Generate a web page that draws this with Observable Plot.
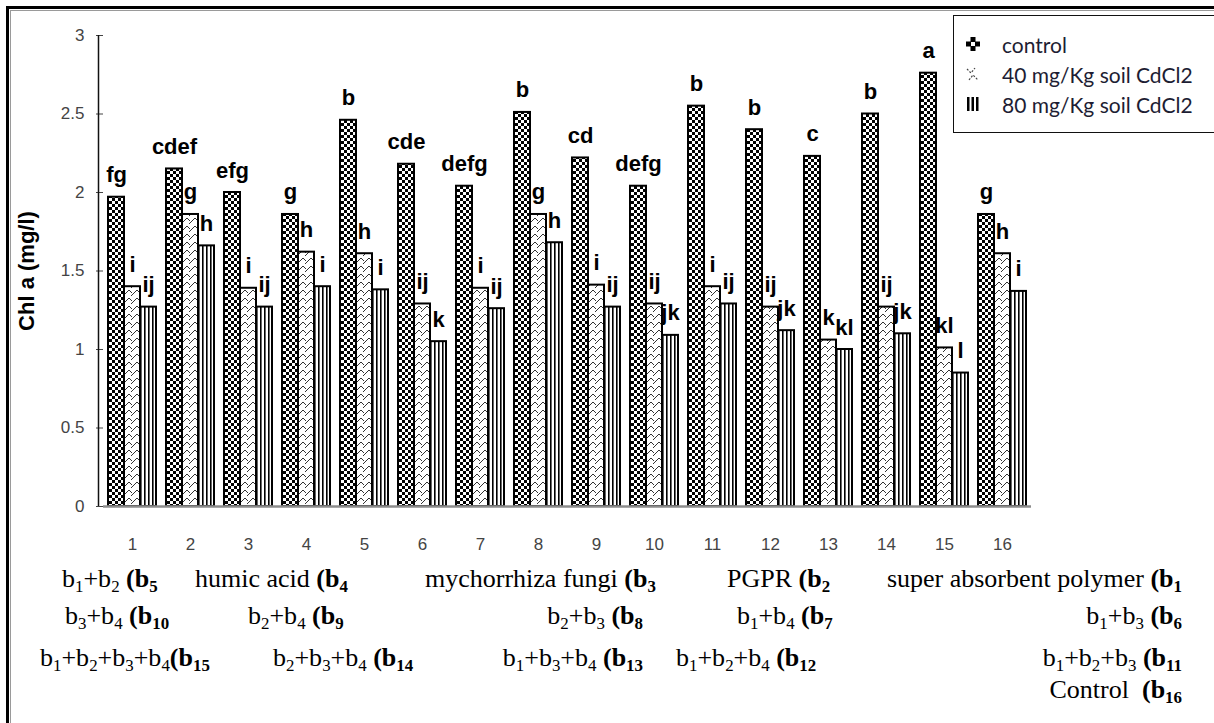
<!DOCTYPE html>
<html><head><meta charset="utf-8">
<script src="https://cdn.jsdelivr.net/npm/d3@7"></script>
<script src="https://cdn.jsdelivr.net/npm/@observablehq/plot@0.6"></script>
<style>
html,body{margin:0;padding:0;background:#fff;}
#wrap{position:relative;width:1214px;height:723px;overflow:hidden;background:#fff;}
.frame1{position:absolute;left:6px;top:6px;width:1300px;height:800px;border:3px solid #000;box-sizing:border-box;}
.frame2{position:absolute;left:10px;top:10px;width:1300px;height:800px;border:1.5px solid #9a9a9a;box-sizing:border-box;}
#chart{position:absolute;left:0;top:0;}
#chart svg [aria-label="y-axis label"] text{font-weight:bold;font-size:22px;fill:#000;}
.legend{position:absolute;left:953px;top:15px;width:300px;height:116px;border:1.5px solid #111;background:#fff;font-family:Lato,"Open Sans",sans-serif;font-size:21px;color:#1d1d33;}
.legend .row{position:absolute;left:12px;height:30px;display:flex;align-items:center;white-space:nowrap;}
.legend .row svg{margin-right:22px;}
.notes span{position:absolute;font-family:"Liberation Serif","Times New Roman",serif;font-size:26px;white-space:nowrap;line-height:1;color:#000;}
.notes sub{font-size:0.65em;vertical-align:-0.28em;line-height:0;}
</style></head>
<body>
<svg width="0" height="0" style="position:absolute">
<defs>
<pattern id="pCtrl" patternUnits="userSpaceOnUse" width="6" height="6">
  <rect width="6" height="6" fill="#fff"/>
  <rect width="3" height="3" fill="#000"/>
  <rect x="3" y="3" width="3" height="3" fill="#000"/>
</pattern>
<pattern id="p40" patternUnits="userSpaceOnUse" width="8" height="8">
  <rect width="8" height="8" fill="#fff"/>
  <path d="M0,7 L5,2 L8,5 M-1,1 L0,0 M5,10 L8,7" stroke="#333" stroke-width="1" fill="none"/>
</pattern>
<pattern id="p80" patternUnits="userSpaceOnUse" width="4" height="4">
  <rect width="4" height="4" fill="#fff"/>
  <rect width="1.6" height="4" fill="#000"/>
</pattern>
</defs>
</svg>
<div id="wrap">
  <div class="frame1"></div>
  <div class="frame2"></div>
  <div id="chart"></div>
  <div class="legend">
    <div class="row" style="top:13px"><svg width="14" height="14" viewBox="0 0 14 14"><rect x="4.5" y="0" width="5" height="5" fill="#000"/><rect x="0" y="4.5" width="5" height="5" fill="#000"/><rect x="9" y="4.5" width="5" height="5" fill="#000"/><rect x="4.5" y="9" width="5" height="5" fill="#000"/></svg>control</div>
    <div class="row" style="top:43px"><svg width="14" height="14" viewBox="0 0 14 14"><path d="M1,2 L5,6 L9,1 M3,13 L7,8 L12,13" stroke="#444" stroke-width="1.2" stroke-dasharray="2,1.5" fill="none"/></svg>40 mg/Kg soil CdCl2</div>
    <div class="row" style="top:73px"><svg width="14" height="14" viewBox="0 0 14 14"><rect x="1" y="0" width="2.5" height="14" fill="#000"/><rect x="5.5" y="0" width="2.5" height="14" fill="#000"/><rect x="10" y="0" width="2.5" height="14" fill="#000"/></svg>80 mg/Kg soil CdCl2</div>
  </div>
  <div class="notes" id="notes"></div>
</div>
<script>
// ---- data ----
const groups = ["1","2","3","4","5","6","7","8","9","10","11","12","13","14","15","16"];
const seriesNames = ["control", "40 mg/Kg soil CdCl2", "80 mg/Kg soil CdCl2"];
const controlValues = [1.97, 2.15, 2.00, 1.86, 2.46, 2.18, 2.04, 2.51, 2.22, 2.04, 2.55, 2.40, 2.23, 2.50, 2.76, 1.86];
const cd40Values    = [1.40, 1.86, 1.39, 1.62, 1.61, 1.29, 1.39, 1.86, 1.41, 1.29, 1.40, 1.27, 1.06, 1.27, 1.01, 1.61];
const cd80Values    = [1.27, 1.66, 1.27, 1.40, 1.38, 1.05, 1.26, 1.68, 1.27, 1.09, 1.29, 1.12, 1.00, 1.10, 0.85, 1.37];
const controlLetters = ["fg","cdef","efg","g","b","cde","defg","b","cd","defg","b","b","c","b","a","g"];
const cd40Letters    = ["i","g","i","h","h","ij","i","g","i","ij","i","ij","k","ij","kl","h"];
const cd80Letters    = ["ij","h","ij","i","i","k","ij","h","ij","jk","ij","jk","kl","jk","l","i"];
const yTicks = [0, 0.5, 1, 1.5, 2, 2.5, 3];
const yTickLabels = ["0", "0.5", "1", "1.5", "2", "2.5", "3"];
const yLabel = "Chl a (mg/l)";

// bottom annotation rows
const notes = [
  {row: 0, html: "b<sub>1</sub>+b<sub>2</sub> <b>(b<sub>5</sub></b>", left: 62},
  {row: 0, html: "humic acid <b>(b<sub>4</sub></b>", left: 195},
  {row: 0, html: "mychorrhiza fungi <b>(b<sub>3</sub></b>", left: 425},
  {row: 0, html: "PGPR <b>(b<sub>2</sub></b>", left: 727},
  {row: 0, html: "super absorbent polymer <b>(b<sub>1</sub></b>", right: 32},
  {row: 1, html: "b<sub>3</sub>+b<sub>4</sub> <b>(b<sub>10</sub></b>", left: 65},
  {row: 1, html: "b<sub>2</sub>+b<sub>4</sub> <b>(b<sub>9</sub></b>", left: 248},
  {row: 1, html: "b<sub>2</sub>+b<sub>3</sub> <b>(b<sub>8</sub></b>", right: 571},
  {row: 1, html: "b<sub>1</sub>+b<sub>4</sub> <b>(b<sub>7</sub></b>", left: 737},
  {row: 1, html: "b<sub>1</sub>+b<sub>3</sub> <b>(b<sub>6</sub></b>", right: 32},
  {row: 2, html: "b<sub>1</sub>+b<sub>2</sub>+b<sub>3</sub>+b<sub>4</sub><b>(b<sub>15</sub></b>", left: 40},
  {row: 2, html: "b<sub>2</sub>+b<sub>3</sub>+b<sub>4</sub> <b>(b<sub>14</sub></b>", left: 273},
  {row: 2, html: "b<sub>1</sub>+b<sub>3</sub>+b<sub>4</sub> <b>(b<sub>13</sub></b>", right: 571},
  {row: 2, html: "b<sub>1</sub>+b<sub>2</sub>+b<sub>4</sub> <b>(b<sub>12</sub></b>", left: 676},
  {row: 2, html: "b<sub>1</sub>+b<sub>2</sub>+b<sub>3</sub> <b>(b<sub>11</sub></b>", right: 32},
  {row: 3, html: "Control&nbsp; <b>(b<sub>16</sub></b>", right: 32}
];
const rowTops = [566, 603, 645, 677];

// ---- build table ----
const data = [];
groups.forEach((g, i) => {
  data.push({g, s: seriesNames[0], v: controlValues[i], l: controlLetters[i]});
  data.push({g, s: seriesNames[1], v: cd40Values[i], l: cd40Letters[i]});
  data.push({g, s: seriesNames[2], v: cd80Values[i], l: cd80Letters[i]});
});

const W = 1214, H = 560, ML = 99, MR = 180, MT = 35, MB = 54;
const chart = Plot.plot({
  width: W,
  height: H,
  marginLeft: ML,
  marginRight: MR,
  marginTop: MT,
  marginBottom: MB,
  style: {fontFamily: "'Liberation Sans', Arial, sans-serif", background: "transparent", overflow: "visible"},
  fx: {domain: groups, padding: 0},
  x: {domain: seriesNames, paddingInner: 0, paddingOuter: 0.265, axis: null},
  y: {domain: [0, 3]},
  color: {domain: seriesNames, range: ["url(#pCtrl)", "url(#p40)", "url(#p80)"]},
  marks: [
    Plot.axisFx({anchor: "bottom", tickSize: 0, tickPadding: 31, fontSize: 17, color: "#444", label: null}),
    Plot.axisY({ticks: yTicks, tickFormat: (d) => yTickLabels[yTicks.indexOf(d)], tickSize: 7, tickPadding: 12,
                fontSize: 17, color: "#444", label: yLabel, labelArrow: "none", labelAnchor: "center", labelOffset: 85}),
    Plot.barY(data, {fx: "g", x: "s", y: "v", fill: "s", stroke: "#000", strokeWidth: 2}),
    Plot.ruleY([0], {stroke: "#8c8c8c", strokeWidth: 2.5}),
    Plot.text(data, {fx: "g", x: "s", y: "v", text: "l", lineAnchor: "bottom", dy: -15,
                     fontSize: 22, fontWeight: "bold", fill: "#000"})
  ]
});
document.getElementById("chart").appendChild(chart);

// y-axis domain line along the left edge of the frame, spanning the y scale's domain
const svgEl = chart.tagName.toLowerCase() === "svg" ? chart : chart.querySelector("svg");
let yTop = MT, yBottom = H - MB;
try {
  const ys = chart.scale("y");
  const a = ys.apply(yTicks[0]), b = ys.apply(yTicks[yTicks.length - 1]);
  if (isFinite(a) && isFinite(b)) { yBottom = a; yTop = b; }
} catch (e) {}
const ns = "http://www.w3.org/2000/svg";
const axisLineEl = document.createElementNS(ns, "path");
axisLineEl.setAttribute("d", `M${ML - 0.5},${yBottom}V${yTop}`);
axisLineEl.setAttribute("stroke", "#111");
axisLineEl.setAttribute("stroke-width", "1.5");
axisLineEl.setAttribute("fill", "none");
svgEl.appendChild(axisLineEl);

const notesDiv = document.getElementById("notes");
notes.forEach(n => {
  const s = document.createElement("span");
  s.innerHTML = n.html;
  s.style.top = rowTops[n.row] + "px";
  if (n.left !== undefined) s.style.left = n.left + "px";
  else s.style.right = n.right + "px";
  notesDiv.appendChild(s);
});
</script>
</body></html>
